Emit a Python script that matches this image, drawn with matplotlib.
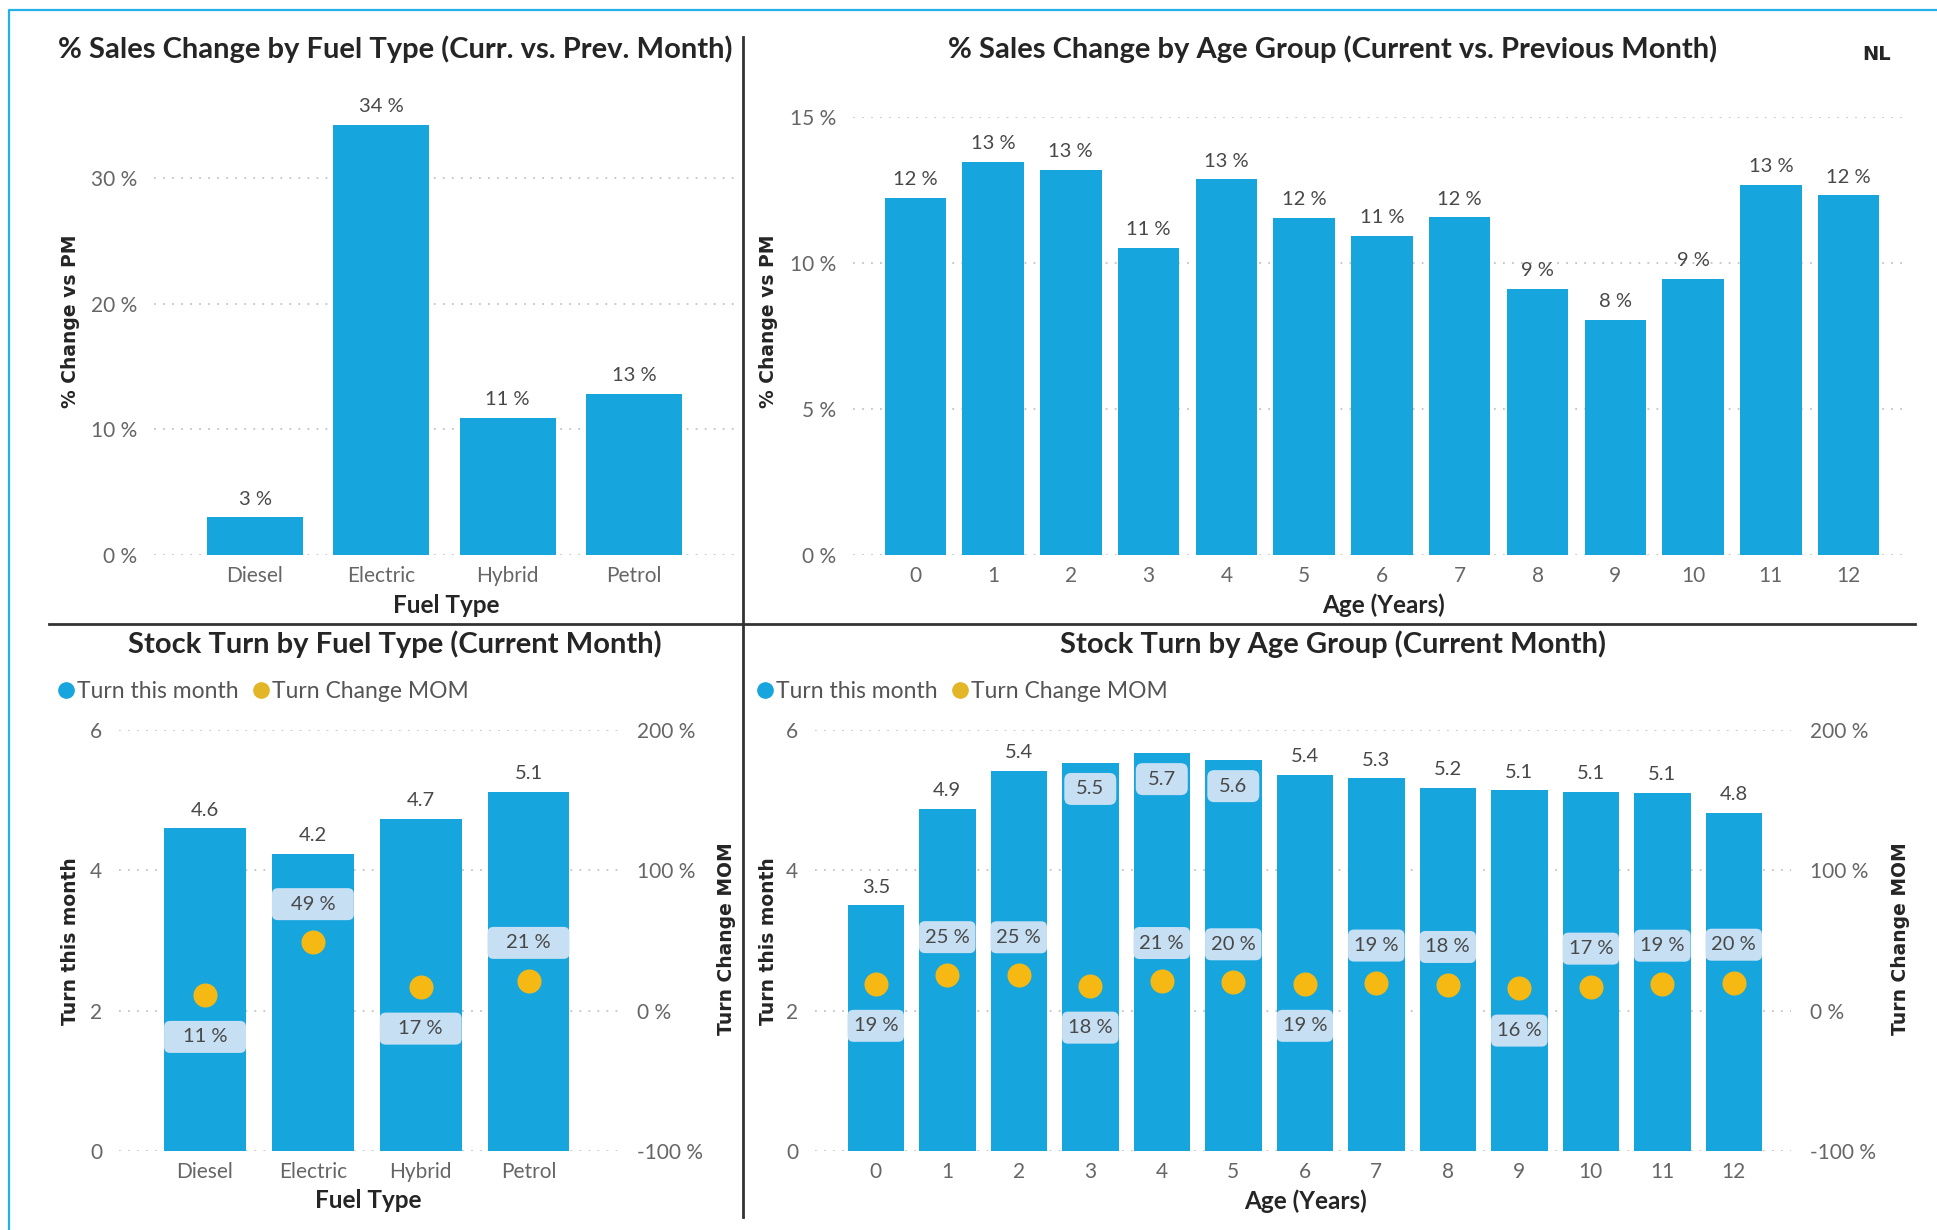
import matplotlib
matplotlib.use("Agg")
import matplotlib.pyplot as plt
from matplotlib.lines import Line2D
from matplotlib.patches import FancyBboxPatch

# data
fuel_types = ["Diesel", "Electric", "Hybrid", "Petrol"]
fuel_sales_change = [3.0, 34.2, 10.9, 12.8]

age_groups = ["0", "1", "2", "3", "4", "5", "6", "7", "8", "9", "10", "11", "12"]
age_sales_change = [12.25, 13.48, 13.2, 10.54, 12.88, 11.55, 10.95, 11.57, 9.12, 8.06, 9.47, 12.68, 12.33]

fuel_turn = [4.6, 4.23, 4.73, 5.12]
fuel_turn_change = [11.3, 48.9, 17.2, 21.3]

age_turn = [3.5, 4.88, 5.42, 5.53, 5.67, 5.57, 5.36, 5.31, 5.18, 5.14, 5.12, 5.1, 4.82]
age_turn_change = [19.2, 25.4, 25.3, 17.9, 21.2, 20.3, 19.2, 19.4, 18.4, 15.8, 17.2, 19.3, 20.0]

# where Power BI put the MOM labels
fuel_label_side = ["below", "above", "below", "above"]
age_label_side = ["below", "above", "above", "below", "above", "above", "below",
                  "above", "above", "below", "above", "above", "above"]

BAR = "#17a5de"
DOT = "#f6b913"
BOX = "#c6dff3"
GRID = "#c4c4c4"
TICK = "#666666"
LABEL = "#484848"
TITLE = "#252525"

plt.rcParams["font.family"] = ["Lato", "DejaVu Sans"]

W, H = 1937, 1230
fig = plt.figure(figsize=(W / 100, H / 100), dpi=100)


def rect(l, t, r, b):
    return [l / W, 1 - b / H, (r - l) / W, (b - t) / H]


def fx(x):
    return x / W


def fy(y):
    return 1 - y / H


def style(ax):
    for s in ax.spines.values():
        s.set_visible(False)
    ax.tick_params(length=0, colors=TICK, labelsize=15, pad=12)
    ax.tick_params(axis="x", pad=8)
    ax.grid(axis="y", color=GRID, linestyle=(0, (1, 4)), linewidth=1.3)
    ax.grid(axis="x", visible=False)
    ax.set_axisbelow(True)


def add_box(ax, xc, yc, width, text, h_px=32, r_px=7, size=13):
    p0 = ax.transData.transform((0, 0))
    p1 = ax.transData.transform((1, 1))
    ppx, ppy = p1[0] - p0[0], p1[1] - p0[1]
    h = h_px / ppy
    box = FancyBboxPatch((xc - width / 2, yc - h / 2), width, h,
                         boxstyle=f"round,pad=0,rounding_size={r_px / ppx}",
                         mutation_aspect=ppx / ppy, fc=BOX, ec="none", zorder=4)
    ax.add_patch(box)
    ax.text(xc, yc, text, ha="center", va="center", fontsize=size, color=LABEL, zorder=5)


def ylab(x, y, text):
    fig.text(fx(x), fy(y), text, rotation=90, ha="center", va="center",
             fontsize=13.5, fontweight="bold", family="DejaVu Sans", color=TITLE)


def xlab(x, y, text):
    fig.text(fx(x), fy(y), text, ha="center", va="center",
             fontsize=17.5, fontweight="bold", color=TITLE)


def title(x, y, text):
    fig.text(fx(x), fy(y), text, ha="center", va="center",
             fontsize=21, fontweight="bold", color=TITLE)


# ---- top left: % sales change by fuel type
ax = fig.add_axes(rect(154, 102.5, 735, 555))
style(ax)
xs = range(len(fuel_types))
ax.bar(xs, fuel_sales_change, width=0.76, color=BAR)
for x, v in zip(xs, fuel_sales_change):
    ax.annotate(f"{v:.0f} %", (x, v), xytext=(0, 7), textcoords="offset points",
                ha="center", va="bottom", fontsize=14.5, color=LABEL)
ax.set_xlim(-0.8, 3.8)
ax.set_ylim(0, 36)
ax.set_yticks([0, 10, 20, 30])
ax.set_yticklabels([f"{t} %" for t in [0, 10, 20, 30]])
ax.set_xticks(list(xs))
ax.set_xticklabels(fuel_types)
title(395, 49, "% Sales Change by Fuel Type (Curr. vs. Prev. Month)")
ylab(70, 321, "% Change vs PM")
xlab(446, 605, "Fuel Type")

# ---- top right: % sales change by age group
ax = fig.add_axes(rect(853, 117.4, 1907, 555))
style(ax)
xs = range(len(age_groups))
ax.bar(xs, age_sales_change, width=0.79, color=BAR)
for x, v in zip(xs, age_sales_change):
    ax.annotate(f"{v:.0f} %", (x, v), xytext=(0, 7), textcoords="offset points",
                ha="center", va="bottom", fontsize=14.5, color=LABEL)
ax.set_xlim(-0.8, 12.75)
ax.set_ylim(0, 15)
ax.set_yticks([0, 5, 10, 15])
ax.set_yticklabels([f"{t} %" for t in [0, 5, 10, 15]])
ax.set_xticks(list(xs))
ax.set_xticklabels(age_groups)
title(1333, 49, "% Sales Change by Age Group (Current vs. Previous Month)")
ylab(768, 321, "% Change vs PM")
xlab(1384, 605, "Age (Years)")
fig.text(fx(1877), fy(55), "NL", ha="center", va="center", fontsize=14,
         fontweight="bold", family="DejaVu Sans", color=TITLE)


def stock_panel(box, xlim, cats, turn, change, sides, width, legend_x):
    ax = fig.add_axes(rect(*box))
    style(ax)
    xs = list(range(len(cats)))
    ax.bar(xs, turn, width=width, color=BAR)
    ax.set_xlim(*xlim)
    ax.set_ylim(0, 6)
    ax.set_yticks([0, 2, 4, 6])
    ax.set_xticks(xs)
    ax.set_xticklabels(cats)

    ax2 = ax.twinx()
    for s in ax2.spines.values():
        s.set_visible(False)
    ax2.set_ylim(-100, 200)
    ax2.set_yticks([-100, 0, 100, 200])
    ax2.set_yticklabels([f"{t} %" for t in [-100, 0, 100, 200]])
    ax2.tick_params(length=0, colors=TICK, labelsize=15, pad=14)
    ax2.scatter(xs, change, s=300, color=DOT, zorder=6, linewidths=0)

    for x, v in zip(xs, turn):
        if v > 5.5:
            add_box(ax, x, v - 0.37, width * 0.92, f"{v:.1f}", size=14.5)
        else:
            ax.annotate(f"{v:.1f}", (x, v), xytext=(0, 7), textcoords="offset points",
                        ha="center", va="bottom", fontsize=14.5, color=LABEL)
    for x, c, side in zip(xs, change, sides):
        yc = c + 27 if side == "above" else c - 30
        add_box(ax2, x, yc, width, f"{c:.0f} %", r_px=6, size=14.5)

    handles = [Line2D([], [], marker="o", ls="", markersize=11, color=BAR),
               Line2D([], [], marker="o", ls="", markersize=11, color="#e3b628")]
    fig.legend(handles, ["Turn this month", "Turn Change MOM"], loc="center left",
               bbox_to_anchor=(fx(legend_x), fy(692)), ncol=2, frameon=False,
               handlelength=0.7, handletextpad=0.15, columnspacing=0.6,
               borderpad=0, borderaxespad=0, fontsize=16.5, labelcolor="#555555")
    return ax


stock_panel((118.8, 730, 618, 1151), (-0.8, 3.83), fuel_types, fuel_turn,
            fuel_turn_change, fuel_label_side, 0.76, 58)
title(395, 644, "Stock Turn by Fuel Type (Current Month)")
ylab(70, 941, "Turn this month")
ylab(726, 939, "Turn Change MOM")
xlab(368, 1201, "Fuel Type")

stock_panel((815, 730, 1791, 1151), (-0.85, 12.8), age_groups, age_turn,
            age_turn_change, age_label_side, 0.79, 757)
title(1333, 644, "Stock Turn by Age Group (Current Month)")
ylab(768, 941, "Turn this month")
ylab(1900, 939, "Turn Change MOM")
xlab(1306, 1201, "Age (Years)")

# dividers and outer frame
fig.add_artist(Line2D([fx(743), fx(743)], [fy(37), fy(1217)], color="#333333", lw=2))
fig.add_artist(Line2D([fx(49), fx(1915)], [fy(624), fy(624)], color="#333333", lw=2))
fig.add_artist(Line2D([fx(9), fx(9), 1], [0, fy(10), fy(10)], color="#22b0ea", lw=1.6))

fig.savefig("out.png", dpi=100, facecolor="white")
